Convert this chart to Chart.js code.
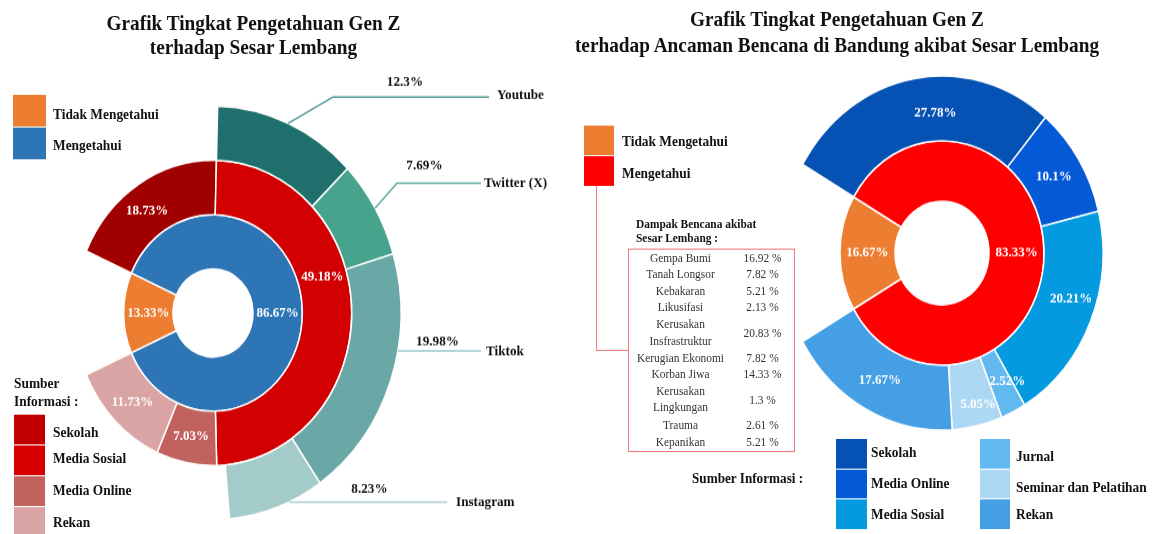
<!DOCTYPE html>
<html lang="id">
<head>
<meta charset="utf-8">
<title>Grafik Tingkat Pengetahuan Gen Z</title>
<script src="https://cdn.jsdelivr.net/npm/chart.js@4.4.1/dist/chart.umd.min.js"></script>
<style>
    html, body { margin: 0; padding: 0; background: #fff; }
    #bingkai { position: relative; width: 1153px; height: 534px; overflow: hidden; }
    /* gambar aslinya sedikit memanjang ke bawah */
    #panggung {
        position: absolute; left: 0; top: 0; width: 1153px; height: 486px;
        transform: scaleY(1.1); transform-origin: 0 0;
        font-family: "Liberation Serif", "Times New Roman", serif; color: #111;
    }
    canvas { position: absolute; top: 0; }
    .judul {
        position: absolute; width: 600px; text-align: center; font-weight: bold;
        font-size: 19.3px; line-height: 22.7px; white-space: nowrap;
    }
    .kotak { position: absolute; }
    .teks {
        position: absolute; font-weight: bold; font-size: 13.4px; white-space: nowrap;
        transform: translateY(-50%);
    }
    .tabel {
        position: absolute; left: 628px; top: 225.5px; width: 167px; height: 185.4px;
        border: 1.5px solid #f27a7a; box-sizing: border-box;
        font-size: 11.4px; line-height: 15.2px; color: #333;
    }
    .baris { display: flex; align-items: center; }
    .k1 { width: 103px; text-align: center; }
    .k2 { width: 61px; text-align: center; }
    .garis { position: absolute; border-color: #f47a7a; border-style: solid; border-width: 0; }
</style>
</head>
<body>
<div id="bingkai">
<div id="panggung">
    <canvas id="grafikKiri" width="576" height="486" style="left:0"></canvas>
    <canvas id="grafikKanan" width="577" height="486" style="left:576px"></canvas>
</div>
</div>
<script>
// ---- Grafik kiri: pengetahuan tentang Sesar Lembang ----
const kategoriPengetahuan = ['Tidak Mengetahui', 'Mengetahui'];
const pengetahuanKiri = [13.33, 86.67];
const sumberKiri = ['Sekolah', 'Media Sosial', 'Media Online', 'Rekan'];
const sumberKiriNilai = [18.73, 49.18, 7.03, 11.73];
const platformMedsos = ['Youtube', 'Twitter (X)', 'Tiktok', 'Instagram'];
const platformNilai = [12.3, 7.69, 19.98, 8.23];

// ---- Grafik kanan: pengetahuan tentang ancaman bencana ----
const pengetahuanKanan = [16.67, 83.33];
const sumberKanan = ['Sekolah', 'Media Online', 'Media Sosial', 'Jurnal', 'Seminar dan Pelatihan', 'Rekan'];
const sumberKananNilai = [27.78, 10.1, 20.21, 2.52, 5.05, 17.67];
const dampakBencana = ['Gempa Bumi', 'Tanah Longsor', 'Kebakaran', 'Likusifasi', 'Kerusakan Insfrastruktur',
    'Kerugian Ekonomi', 'Korban Jiwa', 'Kerusakan Lingkungan', 'Trauma', 'Kepanikan'];
const dampakPersen = [16.92, 7.82, 5.21, 2.13, 20.83, 7.82, 14.33, 1.3, 2.61, 5.21];

// Warna
const warnaPengetahuanKiri = ['#ed7d31', '#2e75b6'];
const warnaPengetahuanKanan = ['#ed7d31', '#ff0000'];
const warnaSumberKiri = ['#a10000', '#d20000', '#c1625e', '#dba4a4'];
const warnaLegendaSumberKiri = ['#c00000', '#d60000', '#c1625e', '#dba4a4'];
const warnaPlatform = ['#1f706d', '#47a38c', '#69a8a6', '#a3cbca'];
const warnaSumberKanan = ['#0551b4', '#0459d6', '#049ae0', '#62b9f0', '#acd8f3', '#449fe5'];

const panggung = document.getElementById('panggung');
const hurufLabel = 'bold 13px "Liberation Serif", serif';

function tambah(tag, kelas, gaya, teks) {
    const el = document.createElement(tag);
    if (kelas) el.className = kelas;
    Object.assign(el.style, gaya);
    if (teks !== undefined) el.textContent = teks;
    panggung.appendChild(el);
    return el;
}

// Legenda kotak warna + teks
function legenda(nama, warna, tata) {
    nama.forEach((n, i) => {
        tambah('div', 'kotak', {
            left: tata.x + 'px', top: tata.atas[i] + 'px',
            width: tata.w + 'px', height: tata.h + 'px', background: warna[i]
        });
        tambah('div', 'teks', { left: tata.teksX + 'px', top: tata.teksY[i] + 'px' }, n);
    });
}

// Label persen putih di tengah tiap potongan
const labelPersen = {
    id: 'labelPersen',
    afterDatasetsDraw(chart, args, opts) {
        const ctx = chart.ctx;
        ctx.save();
        ctx.font = hurufLabel;
        ctx.fillStyle = '#fff';
        ctx.textAlign = 'center';
        ctx.textBaseline = 'middle';
        opts.dataset.forEach(di => {
            const ds = chart.data.datasets[di];
            chart.getDatasetMeta(di).data.forEach((arc, i) => {
                const p = arc.getProps(['x', 'y', 'startAngle', 'endAngle', 'innerRadius', 'outerRadius'], true);
                const geser = opts.geser[di + '-' + i] || [0, 0];
                const a = (p.startAngle + p.endAngle) / 2 + geser[0] * Math.PI / 180;
                const r = (p.innerRadius + p.outerRadius) / 2 + geser[1];
                ctx.fillText(ds.data[i] + '%', p.x + Math.cos(a) * r, p.y + Math.sin(a) * r);
            });
        });
        ctx.restore();
    }
};

// Garis penunjuk untuk platform media sosial (cincin luar kiri)
const garisPenunjuk = [
    { siku: [333, 88.2], ujungX: 489, persen: [405, 74.5], nama: [497, 86.4], warna: '#4b9592' },
    { siku: [397, 166.4], ujungX: 481, persen: [424.5, 150.9], nama: [484, 166.4], warna: '#5ba99a' },
    { garisY: 319.1, ujungX: 481, persen: [437.5, 310.9], nama: [486, 319.1], warna: '#9cc8c7' },
    { garisY: 456.4, ujungX: 447, persen: [369.5, 444.5], nama: [456, 456.4], warna: '#a7cecd' }
];

const penunjuk = {
    id: 'penunjuk',
    afterDatasetsDraw(chart) {
        const ctx = chart.ctx;
        const arcs = chart.getDatasetMeta(0).data;
        ctx.save();
        ctx.lineWidth = 1.5;
        ctx.font = 'bold 13.2px "Liberation Serif", serif';
        ctx.fillStyle = '#111';
        ctx.textBaseline = 'middle';
        garisPenunjuk.forEach((g, i) => {
            const p = arcs[i].getProps(['x', 'y', 'startAngle', 'endAngle', 'outerRadius'], true);
            let sx, sy;
            if (g.siku) {
                const a = (p.startAngle + p.endAngle) / 2;
                sx = p.x + Math.cos(a) * p.outerRadius;
                sy = p.y + Math.sin(a) * p.outerRadius;
            } else {
                sy = g.garisY;
                sx = p.x + Math.sqrt(Math.max(p.outerRadius ** 2 - (sy - p.y) ** 2, 0));
            }
            ctx.strokeStyle = g.warna;
            ctx.beginPath();
            ctx.moveTo(sx, sy);
            let ey = sy;
            if (g.siku) {
                ctx.lineTo(g.siku[0], g.siku[1]);
                ey = g.siku[1];
            }
            ctx.lineTo(g.ujungX, ey);
            ctx.stroke();

            ctx.textAlign = 'center';
            ctx.fillText(platformNilai[i] + '%', g.persen[0], g.persen[1]);
            ctx.textAlign = 'left';
            ctx.fillText(platformMedsos[i], g.nama[0], g.nama[1]);
        });
        ctx.restore();
    }
};

const jumlah = arr => arr.reduce((a, b) => a + b, 0);

// Mulai cincin: potongan "Tidak Mengetahui" berpusat di arah jam 9
const putarKiri = 270 - pengetahuanKiri[0] * 1.8;
const putarSumberKiri = 270 + pengetahuanKiri[0] * 1.8;
const putarMedsos = putarSumberKiri + sumberKiriNilai[0] * 3.6;

new Chart(document.getElementById('grafikKiri'), {
    type: 'doughnut',
    data: {
        labels: platformMedsos,
        datasets: [
            {
                label: 'Platform Media Sosial',
                data: platformNilai,
                backgroundColor: warnaPlatform,
                rotation: putarMedsos,
                circumference: jumlah(platformNilai) * 3.6
            },
            {
                label: 'Sumber Informasi',
                data: sumberKiriNilai,
                backgroundColor: warnaSumberKiri,
                rotation: putarSumberKiri,
                circumference: jumlah(sumberKiriNilai) * 3.6
            },
            {
                label: 'Pengetahuan',
                data: pengetahuanKiri,
                backgroundColor: warnaPengetahuanKiri,
                rotation: putarKiri
            }
        ]
    },
    options: {
        responsive: false,
        animation: false,
        cutout: '21.3%',
        borderColor: '#ffffff',
        borderWidth: 1.5,
        hoverBorderWidth: 1.5,
        hoverOffset: 0,
        layout: { padding: { left: 24.25, right: 174.25, top: 95.75, bottom: 12.75 } },
        plugins: {
            legend: { display: false },
            tooltip: { enabled: false },
            labelPersen: { dataset: [1, 2], geser: { '1-0': [-3, 0], '1-1': [-16.5, 0] } }
        }
    },
    plugins: [labelPersen, penunjuk]
});

const putarKanan = 270 - pengetahuanKanan[0] * 1.8;
const putarSumberKanan = 270 + pengetahuanKanan[0] * 1.8;

new Chart(document.getElementById('grafikKanan'), {
    type: 'doughnut',
    data: {
        labels: sumberKanan,
        datasets: [
            {
                label: 'Sumber Informasi',
                data: sumberKananNilai,
                backgroundColor: warnaSumberKanan,
                rotation: putarSumberKanan,
                circumference: jumlah(sumberKananNilai) * 3.6,
                weight: 59
            },
            {
                label: 'Pengetahuan',
                data: pengetahuanKanan,
                backgroundColor: warnaPengetahuanKanan,
                rotation: putarKanan,
                weight: 55
            }
        ]
    },
    options: {
        responsive: false,
        animation: false,
        cutout: '29.2%',
        borderColor: '#ffffff',
        borderWidth: 1.5,
        hoverBorderWidth: 1.5,
        hoverOffset: 0,
        layout: { padding: { left: 204.25, right: 49.25, top: 68.25, bottom: 94.25 } },
        plugins: {
            legend: { display: false },
            tooltip: { enabled: false },
            labelPersen: {
                dataset: [0, 1],
                geser: { '0-0': [7, -4], '0-2': [-5, 4], '0-3': [-3, 2], '0-4': [-2, 11] }
            }
        }
    },
    plugins: [labelPersen]
});

// ---- Teks dan legenda ----
tambah('div', 'judul', { left: '-46.5px', top: '9.55px' }).innerHTML =
    'Grafik Tingkat Pengetahuan Gen Z<br>terhadap Sesar Lembang';
tambah('div', 'judul', { left: '537px', top: '6.85px' }).innerHTML =
    'Grafik Tingkat Pengetahuan Gen Z<br>terhadap Ancaman Bencana di Bandung akibat Sesar Lembang';

legenda(kategoriPengetahuan, warnaPengetahuanKiri,
    { x: 13, w: 33, h: 29, atas: [86.4, 116.4], teksX: 53, teksY: [103.6, 131.8] });

tambah('div', 'teks', { left: '14px', top: '341.2px', transform: 'none', lineHeight: '15.5px' })
    .innerHTML = 'Sumber<br>Informasi :';
legenda(sumberKiri, warnaLegendaSumberKiri,
    { x: 14, w: 31, h: 27, atas: [377, 405, 433, 461], teksX: 53, teksY: [392.7, 417.3, 446.4, 474.5] });

legenda(kategoriPengetahuan, warnaPengetahuanKanan,
    { x: 584, w: 30, h: 27, atas: [113.6, 141.8], teksX: 622, teksY: [129, 158.2] });

// garis penghubung legenda "Mengetahui" ke tabel dampak
tambah('div', 'garis', { left: '596.25px', top: '169px', height: '149.2px', borderLeftWidth: '1.5px' });
tambah('div', 'garis', { left: '596.25px', top: '317.5px', width: '32px', borderTopWidth: '1.5px' });

tambah('div', 'teks', { left: '636px', top: '197.2px', transform: 'none', fontSize: '11.4px', lineHeight: '12.8px' })
    .innerHTML = 'Dampak Bencana akibat<br>Sesar Lembang :';

const tabel = tambah('div', 'tabel', {});
dampakBencana.forEach((d, i) => {
    const baris = document.createElement('div');
    baris.className = 'baris';
    baris.innerHTML = `<span class="k1">${d}</span><span class="k2">${dampakPersen[i]} %</span>`;
    tabel.appendChild(baris);
});

tambah('div', 'teks', { left: '692px', top: '434.5px', fontSize: '13.2px' }, 'Sumber Informasi :');
legenda(sumberKanan.slice(0, 3), warnaSumberKanan.slice(0, 3),
    { x: 836, w: 31, h: 26.8, atas: [399, 426.6, 454.2], teksX: 871, teksY: [411, 440, 468] });
legenda(sumberKanan.slice(3), warnaSumberKanan.slice(3),
    { x: 980, w: 30, h: 26.8, atas: [399, 426.6, 454.2], teksX: 1016, teksY: [414.5, 442.7, 468.2] });
</script>
</body>
</html>
